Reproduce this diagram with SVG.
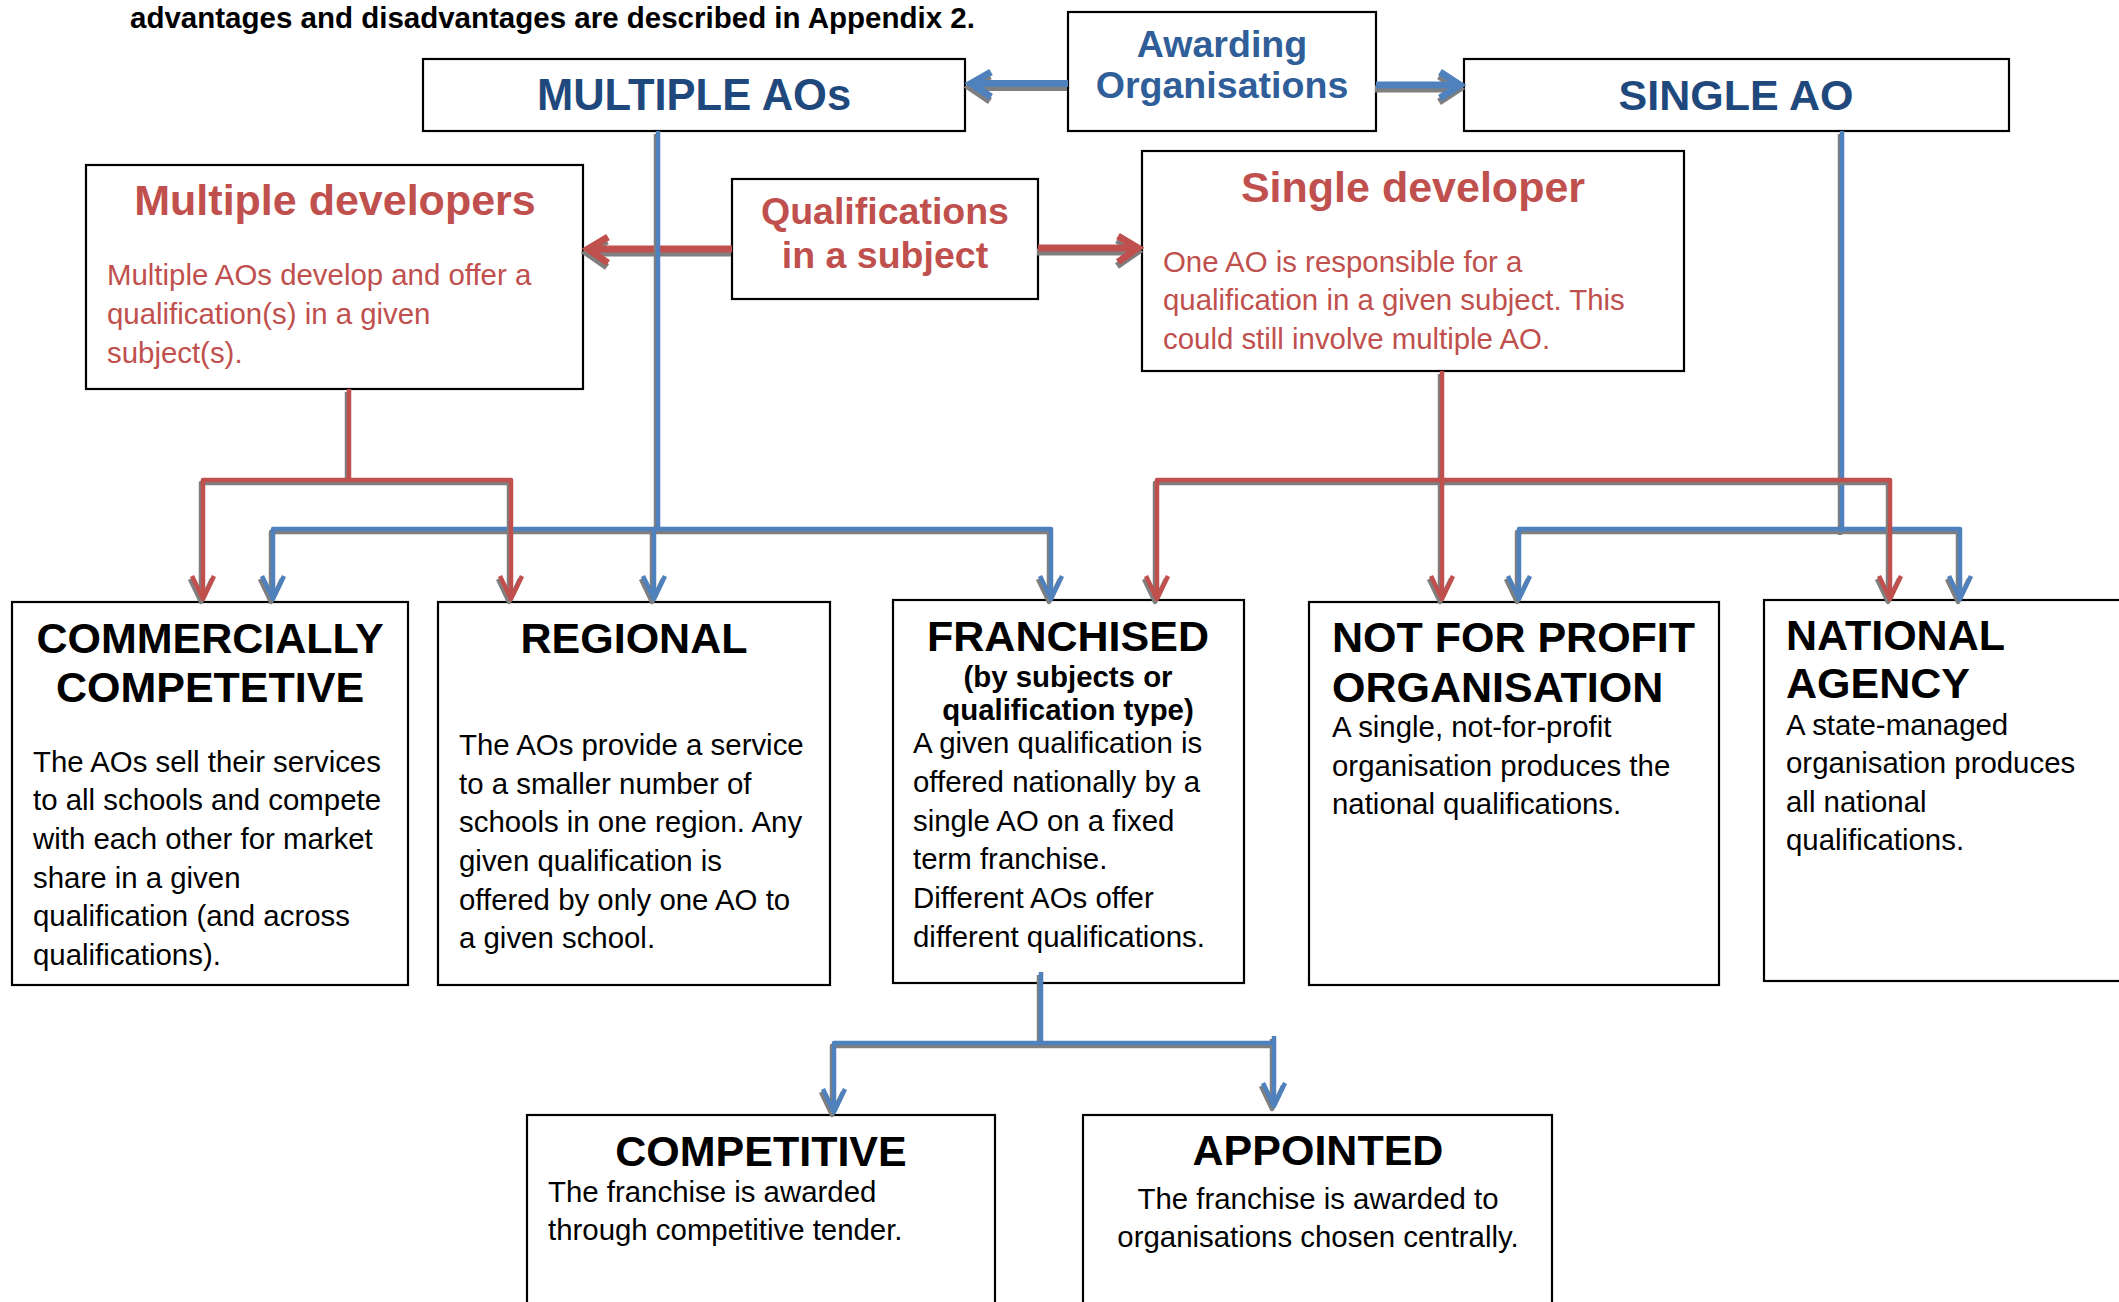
<svg xmlns="http://www.w3.org/2000/svg" width="2119" height="1302" viewBox="0 0 2119 1302">
<style>
text{font-family:"Liberation Sans",Arial,sans-serif}
.box{fill:#fff;stroke:#000;stroke-width:2.2}
.h42{font-size:43px;font-weight:bold}
.t29{font-size:29.4px}
.b29{font-size:29.4px;font-weight:bold}
.navy{fill:#1F497D}
.lblue{fill:#2F5E99}
.redt{fill:#C0504D}
.blk{fill:#000}
.mid{text-anchor:middle}
.c{fill:none;stroke-width:4.5;stroke-linejoin:round}
.ct{fill:none;stroke-width:7;stroke-linejoin:miter}
.sh{stroke:#7F7F7F}
.bl{stroke:#4F81BD}
.rd{stroke:#C0504D}
</style>
<defs>
<path id="r1" d="M349,389V480M203,599V480H511V599M192,576L203,599L214,576M500,576L511,599L522,576"/>
<path id="r2" d="M1442,371V599M1431,576L1442,599L1453,576M1157,599V480H1890V599M1146,576L1157,599L1168,576M1879,576L1890,599L1901,576"/>
<path id="b1" d="M658,131V529M654,529V599M643,576L654,599L665,576M273,599V529H1051V599M262,576L273,599L284,576M1040,576L1051,599L1062,576"/>
<path id="b2" d="M1842,131V532M1519,599V529H1960V599M1508,576L1519,599L1530,576M1949,576L1960,599L1971,576"/>
<path id="b3" d="M1041,972V1043M834,1112V1043H1274M1274,1036V1106M823,1089L834,1112L845,1089M1263,1083L1274,1106L1285,1083"/>
<path id="ta1" d="M1068,83.5H972M991,72L971,83.5L991,97"/>
<path id="ta2" d="M1376,85H1458M1440,72L1460,85L1440,98"/>
<path id="ra1" d="M732,249H590M608,237L588,249L608,263"/>
<path id="ra2" d="M1038,248H1136M1118,236L1138,248L1118,262"/>
</defs>

<text x="130" y="28" style="font-size:29.5px;font-weight:bold" class="blk">advantages and disadvantages are described in Appendix 2.</text>

<g id="multiple-aos">
<rect class="box" x="423" y="59" width="542" height="72"/>
<text class="navy mid" x="694" y="110" style="font-size:43.5px;font-weight:bold">MULTIPLE AOs</text>
</g>
<g id="awarding-organisations">
<rect class="box" x="1068" y="12" width="308" height="119"/>
<text class="lblue mid" x="1222" y="57" style="font-size:37.6px;font-weight:bold">Awarding</text>
<text class="lblue mid" x="1222" y="98" style="font-size:37.6px;font-weight:bold">Organisations</text>
</g>
<g id="single-ao">
<rect class="box" x="1464" y="59" width="545" height="72"/>
<text class="navy mid" x="1736" y="110" style="font-size:43px;font-weight:bold">SINGLE AO</text>
</g>
<g id="multiple-developers">
<rect class="box" x="86" y="165" width="497" height="224"/>
<text class="h42 redt mid" x="335" y="215">Multiple developers</text>
<text class="t29 redt" x="107" y="285">Multiple AOs develop and offer a</text>
<text class="t29 redt" x="107" y="324">qualification(s) in a given</text>
<text class="t29 redt" x="107" y="363">subject(s).</text>
</g>
<g id="qualifications-in-a-subject">
<rect class="box" x="732" y="179" width="306" height="120"/>
<text class="redt mid" x="885" y="224" style="font-size:37.5px;font-weight:bold">Qualifications</text>
<text class="redt mid" x="885" y="268" style="font-size:37.5px;font-weight:bold">in a subject</text>
</g>
<g id="single-developer">
<rect class="box" x="1142" y="151" width="542" height="220"/>
<text class="h42 redt mid" x="1413" y="202">Single developer</text>
<text class="t29 redt" x="1163" y="272">One AO is responsible for a</text>
<text class="t29 redt" x="1163" y="310">qualification in a given subject. This</text>
<text class="t29 redt" x="1163" y="349">could still involve multiple AO.</text>
</g>
<g id="commercially-competetive">
<rect class="box" x="12" y="602" width="396" height="383"/>
<text class="h42 blk mid" x="210" y="653">COMMERCIALLY</text>
<text class="h42 blk mid" x="210" y="702">COMPETETIVE</text>
<text class="t29 blk" x="33" y="772">The AOs sell their services</text>
<text class="t29 blk" x="33" y="810">to all schools and compete</text>
<text class="t29 blk" x="33" y="849">with each other for market</text>
<text class="t29 blk" x="33" y="888">share in a given</text>
<text class="t29 blk" x="33" y="926">qualification (and across</text>
<text class="t29 blk" x="33" y="965">qualifications).</text>
</g>
<g id="regional">
<rect class="box" x="438" y="602" width="392" height="383"/>
<text class="h42 blk mid" x="634" y="653">REGIONAL</text>
<text class="t29 blk" x="459" y="755">The AOs provide a service</text>
<text class="t29 blk" x="459" y="794">to a smaller number of</text>
<text class="t29 blk" x="459" y="832">schools in one region. Any</text>
<text class="t29 blk" x="459" y="871">given qualification is</text>
<text class="t29 blk" x="459" y="910">offered by only one AO to</text>
<text class="t29 blk" x="459" y="948">a given school.</text>
</g>
<g id="franchised">
<rect class="box" x="893" y="600" width="351" height="383"/>
<text class="h42 blk mid" x="1068" y="651">FRANCHISED</text>
<text class="b29 blk mid" x="1068" y="687">(by subjects or</text>
<text class="b29 blk mid" x="1068" y="720">qualification type)</text>
<text class="t29 blk" x="913" y="753">A given qualification is</text>
<text class="t29 blk" x="913" y="792">offered nationally by a</text>
<text class="t29 blk" x="913" y="831">single AO on a fixed</text>
<text class="t29 blk" x="913" y="869">term franchise.</text>
<text class="t29 blk" x="913" y="908">Different AOs offer</text>
<text class="t29 blk" x="913" y="947">different qualifications.</text>
</g>
<g id="not-for-profit-organisation">
<rect class="box" x="1309" y="602" width="410" height="383"/>
<text class="h42 blk" x="1332" y="652">NOT FOR PROFIT</text>
<text class="h42 blk" x="1332" y="702">ORGANISATION</text>
<text class="t29 blk" x="1332" y="737">A single, not-for-profit</text>
<text class="t29 blk" x="1332" y="776">organisation produces the</text>
<text class="t29 blk" x="1332" y="814">national qualifications.</text>
</g>
<g id="national-agency">
<rect class="box" x="1764" y="600" width="380" height="381"/>
<text class="h42 blk" x="1786" y="650">NATIONAL</text>
<text class="h42 blk" x="1786" y="698">AGENCY</text>
<text class="t29 blk" x="1786" y="735">A state-managed</text>
<text class="t29 blk" x="1786" y="773">organisation produces</text>
<text class="t29 blk" x="1786" y="812">all national</text>
<text class="t29 blk" x="1786" y="850">qualifications.</text>
</g>
<g id="competitive">
<rect class="box" x="527" y="1115" width="468" height="220"/>
<text class="h42 blk mid" x="761" y="1166">COMPETITIVE</text>
<text class="t29 blk" x="548" y="1202">The franchise is awarded</text>
<text class="t29 blk" x="548" y="1240">through competitive tender.</text>
</g>
<g id="appointed">
<rect class="box" x="1083" y="1115" width="469" height="220"/>
<text class="h42 blk mid" x="1318" y="1165">APPOINTED</text>
<text class="t29 blk mid" x="1318" y="1209">The franchise is awarded to</text>
<text class="t29 blk mid" x="1318" y="1247">organisations chosen centrally.</text>
</g>

<g id="connectors">
<use href="#ra1" class="ct sh" transform="translate(-1,4)"/>
<use href="#ra1" class="ct rd"/>
<use href="#ra2" class="ct sh" transform="translate(-1,4)"/>
<use href="#ra2" class="ct rd"/>
<use href="#ta1" class="ct sh" transform="translate(-1,4)"/>
<use href="#ta1" class="ct bl"/>
<use href="#ta2" class="ct sh" transform="translate(-1,4)"/>
<use href="#ta2" class="ct bl"/>
<use href="#b1" class="c sh" transform="translate(-2,3)"/>
<use href="#b1" class="c bl"/>
<use href="#b2" class="c sh" transform="translate(-2,3)"/>
<use href="#b2" class="c bl"/>
<use href="#r1" class="c sh" transform="translate(-2,3)"/>
<use href="#r1" class="c rd"/>
<use href="#r2" class="c sh" transform="translate(-2,3)"/>
<use href="#r2" class="c rd"/>
<use href="#b3" class="c sh" transform="translate(-2,3)"/>
<use href="#b3" class="c bl"/>
</g>
</svg>
